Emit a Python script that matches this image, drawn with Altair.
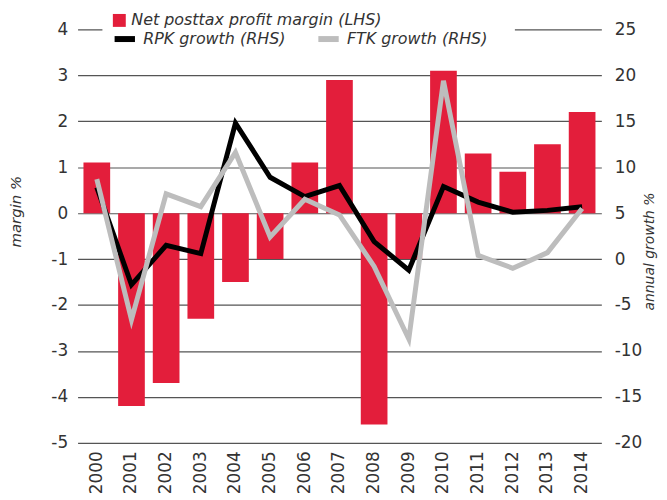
import altair as alt
import pandas as pd

years = [str(y) for y in range(2000, 2015)]
margin = [1.1, -4.2, -3.7, -2.3, -1.5, -1.0, 1.1, 2.9, -4.6, -1.0, 3.1, 1.3, 0.9, 1.5, 2.2]
rpk = [7.8, -2.8, 1.5, 0.6, 14.8, 8.9, 6.8, 8.0, 1.9, -1.2, 7.9, 6.2, 5.1, 5.3, 5.7]
ftk = [8.7, -6.6, 7.1, 5.7, 11.6, 2.4, 6.5, 4.8, -0.8, -8.7, 19.4, 0.4, -1.0, 0.7, 5.5]

bar_label = "Net posttax profit margin (LHS)"
rpk_label = "RPK growth (RHS)"
ftk_label = "FTK growth (RHS)"

bars_df = pd.DataFrame({"year": years, "margin": margin, "label": [bar_label] * len(years)})
lines_df = pd.DataFrame({
    "year": years * 2,
    "value": rpk + ftk,
    "series": [rpk_label] * len(years) + [ftk_label] * len(years),
})

FONT = "DejaVu Sans"
TXT = "#333333"

x_enc = alt.X(
    "year:O",
    title=None,
    scale=alt.Scale(paddingInner=0.23, paddingOuter=0.17),
    axis=alt.Axis(labelAngle=-90, ticks=False, domain=False, labelPadding=8, grid=False),
)

bars = alt.Chart(bars_df).mark_bar(color="#E31E3B").encode(
    x=x_enc,
    y=alt.Y(
        "margin:Q",
        scale=alt.Scale(domain=[-5, 4], nice=False, zero=False),
        axis=alt.Axis(
            values=list(range(-5, 5)),
            labelExpr="'' + datum.value",
            title="margin %",
            grid=True,
            ticks=False,
            domain=False,
            labelPadding=10,
            titleAngle=270,
            titleX=-62,
            titleY=183,
            titleAlign="center",
            titleBaseline="middle",
        ),
    ),
    fill=alt.Fill(
        "label:N",
        scale=alt.Scale(domain=[bar_label], range=["#E31E3B"]),
        legend=alt.Legend(
            orient="none",
            legendX=34,
            legendY=-17,
            title=None,
            symbolType="square",
            symbolSize=169,
            symbolStrokeWidth=0,
            labelFontSize=16,
            labelFont=FONT,
            labelFontStyle="italic",
            labelColor=TXT,
            labelOffset=4,
            labelLimit=0,
            padding=0,
        ),
    ),
)

cover = alt.Chart(pd.DataFrame({"k": [0]})).mark_rule(color="white", strokeWidth=4).encode(
    x=alt.value(25), x2=alt.value(440), y=alt.value(0)
)

lines = alt.Chart(lines_df).mark_line(strokeWidth=5).encode(
    x=alt.X("year:O"),
    y=alt.Y(
        "value:Q",
        scale=alt.Scale(domain=[-20, 25], nice=False, zero=False),
        axis=alt.Axis(
            orient="right",
            values=list(range(-20, 30, 5)),
            labelExpr="'' + datum.value",
            title="annual growth %",
            titleAngle=270,
            titleX=48,
            titleY=223,
            titleFontSize=14,
            titleAlign="center",
            titleBaseline="middle",
            grid=False,
            ticks=False,
            domain=False,
            labelPadding=13,
        ),
    ),
    stroke=alt.Stroke(
        "series:N",
        scale=alt.Scale(domain=[rpk_label, ftk_label], range=["#000000", "#BDBDBD"]),
        legend=alt.Legend(
            orient="none",
            direction="horizontal",
            legendX=34,
            legendY=-4,
            title=None,
            symbolType="stroke",
            symbolSize=420,
            symbolStrokeWidth=6,
            labelFontSize=16,
            labelFont=FONT,
            labelFontStyle="italic",
            labelColor=TXT,
            labelOffset=5,
            labelLimit=0,
            columnPadding=20,
            padding=0,
        ),
    ),
    order=alt.Order("series:N", sort="ascending"),
)

chart = (
    alt.layer(bars, cover, lines)
    .resolve_scale(y="independent", fill="independent", stroke="independent")
    .properties(
        width=527,
        height=416,
        autosize=alt.AutoSizeParams(type="none"),
        padding={"left": 70, "top": 20, "right": 58, "bottom": 52},
    )
    .configure_view(stroke=None)
    .configure_axis(
        labelFont=FONT,
        labelFontSize=17,
        labelColor=TXT,
        titleFont=FONT,
        titleFontSize=15,
        titleFontStyle="italic",
        titleFontWeight="normal",
        titleColor=TXT,
        gridColor="#555555",
        gridWidth=1.2,
    )
)

chart.save("out.html", embed_options={"renderer": "svg", "actions": False})
